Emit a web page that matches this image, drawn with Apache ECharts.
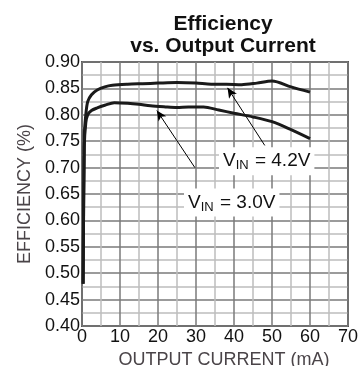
<!DOCTYPE html>
<html>
<head>
<meta charset="utf-8">
<script src="https://cdn.jsdelivr.net/npm/echarts@6/dist/echarts.min.js"></script>
<style>html,body{margin:0;padding:0;background:#fff;}#c{width:358px;height:366px;}</style>
</head>
<body>
<div id="c"></div>
<script>
const xTicks = [0, 10, 20, 30, 40, 50, 60, 70];
const yTicks = [0.40, 0.45, 0.50, 0.55, 0.60, 0.65, 0.70, 0.75, 0.80, 0.85, 0.90];
const current42 = [0.3, 0.6, 1, 1.5, 2.5, 4, 6, 8, 12, 16, 20, 25, 30, 34, 38, 42, 46, 50, 55, 60];
const eff42 = [0.48, 0.76, 0.80, 0.825, 0.838, 0.847, 0.853, 0.856, 0.858, 0.859, 0.860, 0.861, 0.860, 0.858, 0.858, 0.857, 0.860, 0.864, 0.853, 0.843];
const current30 = [0.3, 0.6, 1, 1.5, 2.5, 4, 6, 8.5, 12, 15, 18, 22, 25, 28, 32, 36, 40, 45, 50, 55, 60];
const eff30 = [0.48, 0.74, 0.785, 0.80, 0.808, 0.813, 0.818, 0.823, 0.822, 0.820, 0.817, 0.815, 0.814, 0.815, 0.815, 0.809, 0.803, 0.796, 0.787, 0.772, 0.755];
const arrow42 = [[48.1, 0.742], [38.3, 0.851]];
const arrow30 = [[29.7, 0.700], [19.7, 0.808]];
const label42 = {x: 48.6, y: 0.712, text: '4.2V'};
const label30 = {x: 39.4, y: 0.634, text: '3.0V'};

const chart = echarts.init(document.getElementById('c'));
const FF = '"Liberation Sans", Arial, Helvetica, sans-serif';
const toPairs = (xs, ys) => xs.map((x, i) => [x, ys[i]]);

chart.setOption({
  animation: false,
  backgroundColor: '#fff',
  title: {
    text: 'Efficiency\nvs. Output Current',
    left: 218, top: 8, textAlign: 'center',
    textStyle: {fontFamily: FF, fontSize: 21, fontWeight: 'bold', color: '#111', lineHeight: 22}
  },
  grid: {left: 82, right: 10, top: 62, bottom: 40, show: true, borderColor: '#555', borderWidth: 2, backgroundColor: 'transparent', outerBoundsMode: 'none', containLabel: false},
  xAxis: {
    type: 'value', min: xTicks[0], max: xTicks[xTicks.length - 1], interval: 10,
    name: 'OUTPUT CURRENT (mA)', nameLocation: 'middle', nameGap: 20,
    nameTextStyle: {fontFamily: FF, fontSize: 18, color: '#4a4448', verticalAlign: 'top', padding: [0, 0, 0, 18]},
    axisLine: {show: false}, axisTick: {show: false},
    axisLabel: {fontFamily: FF, fontSize: 18, color: '#111', margin: 2},
    splitLine: {show: true, lineStyle: {color: '#7a7a7a', width: 1.5}},
    minorTick: {show: false, splitNumber: 2},
    minorSplitLine: {show: true, lineStyle: {color: '#bdbdbd', width: 1.5}}
  },
  yAxis: {
    type: 'value', min: yTicks[0], max: yTicks[yTicks.length - 1], interval: 0.05,
    name: 'EFFICIENCY (%)', nameLocation: 'middle', nameGap: 48,
    nameTextStyle: {fontFamily: FF, fontSize: 18, color: '#4a4448'},
    axisLine: {show: false}, axisTick: {show: false},
    axisLabel: {fontFamily: FF, fontSize: 18, color: '#111', margin: 2, formatter: v => v.toFixed(2)},
    splitLine: {show: true, lineStyle: {color: '#7a7a7a', width: 1.5}},
    minorTick: {show: false, splitNumber: 2},
    minorSplitLine: {show: true, lineStyle: {color: '#bdbdbd', width: 1.5}}
  },
  series: [
    {type: 'line', data: toPairs(current42, eff42), smooth: 0.3, showSymbol: false, symbol: 'none',
      lineStyle: {color: '#1a1a1a', width: 3}, z: 5,
      markLine: {silent: true, symbol: ['none', 'arrow'], symbolSize: [7, 10], label: {show: false},
        lineStyle: {color: '#000', width: 1, type: 'solid'},
        data: [[{coord: arrow42[0]}, {coord: arrow42[1]}]]}},
    {type: 'line', data: toPairs(current30, eff30), smooth: 0.3, showSymbol: false, symbol: 'none',
      lineStyle: {color: '#1a1a1a', width: 3}, z: 5,
      markLine: {silent: true, symbol: ['none', 'arrow'], symbolSize: [7, 10], label: {show: false},
        lineStyle: {color: '#000', width: 1, type: 'solid'},
        data: [[{coord: arrow30[0]}, {coord: arrow30[1]}]]}}
  ]
});

function labelEl(l) {
  const p = chart.convertToPixel({gridIndex: 0}, [l.x, l.y]);
  return {
    type: 'text', x: p[0], y: p[1], z: 20,
    style: {
      text: '{v|V}{s|IN}{v| = ' + l.text + '}',
      align: 'center', verticalAlign: 'middle',
      backgroundColor: '#fff', padding: [3, 4, 3, 4],
      rich: {
        v: {fontFamily: FF, fontSize: 19, fill: '#111', lineHeight: 22, verticalAlign: 'middle'},
        s: {fontFamily: FF, fontSize: 13, fill: '#111', lineHeight: 22, verticalAlign: 'bottom', padding: [12, 1, 0, 0]}
      }
    }
  };
}
chart.setOption({graphic: [labelEl(label42), labelEl(label30)]});
</script>
</body>
</html>
